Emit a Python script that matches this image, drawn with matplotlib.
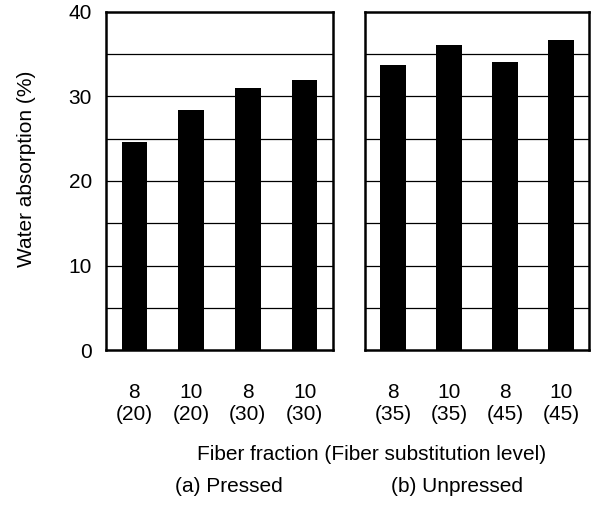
import matplotlib.pyplot as plt
import numpy as np

plt.rcParams['font.family'] = ['Liberation Sans', 'DejaVu Sans']

# Fiber fraction / substitution level labels
pressed_labels = ['8\n(20)', '10\n(20)', '8\n(30)', '10\n(30)']
unpressed_labels = ['8\n(35)', '10\n(35)', '8\n(45)', '10\n(45)']

# Water absorption (%)
pressed_values = [24.6, 28.4, 31.0, 31.9]
unpressed_values = [33.7, 36.1, 34.1, 36.7]

FS = 15

fig = plt.figure(figsize=(5.97, 5.18), dpi=100)
W, H = 597, 518
ax1 = fig.add_axes([106 / W, 1 - 350 / H, 227 / W, 338 / H])
ax2 = fig.add_axes([365 / W, 1 - 350 / H, 224 / W, 338 / H])


def draw_panel(ax, labels, values, show_y):
    x = np.arange(len(values))
    ax.bar(x, values, width=0.45, color='black', zorder=3)
    ax.set_xlim(-0.5, len(values) - 0.5)
    ax.set_ylim(0, 40)
    for yv in range(5, 40, 5):
        ax.axhline(yv, color='black', linewidth=0.9, zorder=1)
    ax.set_xticks(x)
    ax.set_xticklabels(labels, fontsize=FS, linespacing=1.2)
    ax.tick_params(axis='x', length=0, pad=24)
    ax.set_yticks([0, 10, 20, 30, 40])
    if show_y:
        ax.tick_params(axis='y', length=0, labelsize=FS, pad=10)
    else:
        ax.tick_params(axis='y', length=0, labelleft=False)
    for s in ax.spines.values():
        s.set_linewidth(1.8)


draw_panel(ax1, pressed_labels, pressed_values, True)
draw_panel(ax2, unpressed_labels, unpressed_values, False)

ax1.set_ylabel('Water absorption (%)', fontsize=FS)
ax1.yaxis.set_label_coords(-0.31, 0.535)

fig.text(372 / W, 1 - 455 / H, 'Fiber fraction (Fiber substitution level)',
         ha='center', va='center', fontsize=FS)
fig.text(229 / W, 1 - 487 / H, '(a) Pressed', ha='center', va='center', fontsize=FS)
fig.text(457 / W, 1 - 487 / H, '(b) Unpressed', ha='center', va='center', fontsize=FS)

fig.savefig('out.png', dpi=100)
